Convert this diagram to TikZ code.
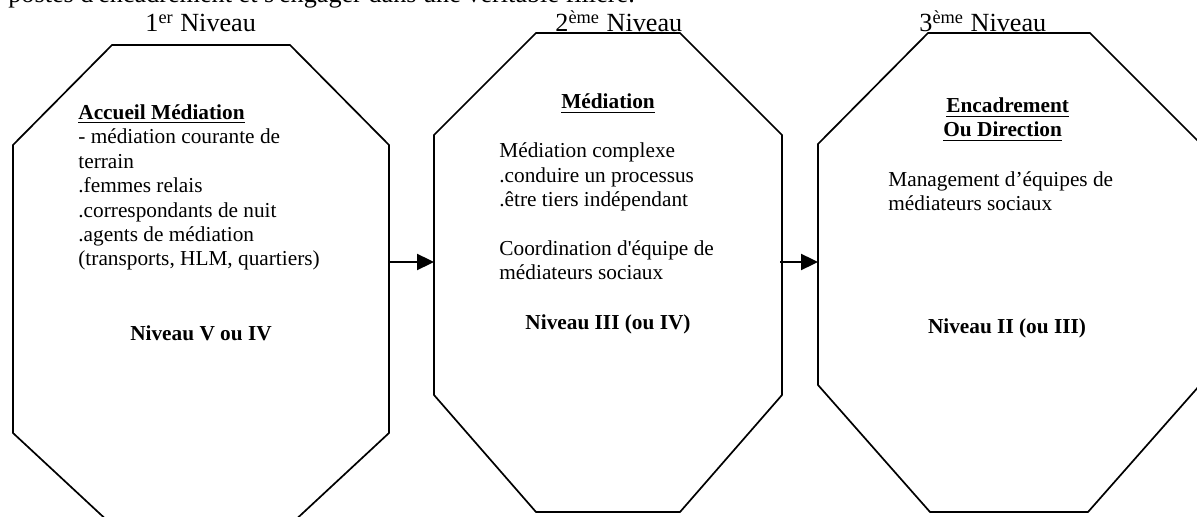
\documentclass[tikz,border=0pt]{standalone}
\usepackage{fontspec}
\setmainfont{Liberation Serif}
\newfontfamily\plainserif{Liberation Serif}
\usetikzlibrary{arrows.meta}
\tikzset{
  octline/.style  = {draw=black, line width=0.85pt, line join=miter},
  flow/.style     = {-{Triangle[length=8.5pt, width=8pt]}, line width=1.15pt},
  headtxt/.style  = {font=\fontsize{13.1}{15}\selectfont, inner sep=0pt, anchor=base west},
  bodytxt/.style  = {font=\fontsize{10.65}{12.2}\selectfont, inner sep=0pt,
                     anchor=base west, align=left},
  titletxt/.style = {bodytxt, font=\fontsize{10.65}{12.2}\selectfont\bfseries},
  leveltxt/.style = {font=\fontsize{10.65}{12.2}\selectfont\bfseries, inner sep=0pt,
                     anchor=base},
}

\begin{document}
\begin{tikzpicture}[x=0.5pt, y=-0.5pt]
  \useasboundingbox (0,0) rectangle (1197,517);
  % line of running text cut at the top
  \node[headtxt] (intro) at (8,3) {postes d{\plainserif'}encadrement et s{\plainserif'}engager dans une véritable filière.};
  \node[headtxt] (lvl1) at (145,32) {1\textsuperscript{er} Niveau};
  \node[headtxt] (lvl2) at (555,32) {2\textsuperscript{ème} Niveau};
  \node[headtxt] (lvl3) at (919,32) {3\textsuperscript{ème} Niveau};
  % octagons
  \draw[octline] (112,45) -- (290,45) -- (389,145) -- (389,433)
    -- (290,525) -- (112,525) -- (13,433) -- (13,145) -- cycle;
  \draw[octline] (536,33) -- (680,33) -- (782,135) -- (782,395)
    -- (680,512) -- (536,512) -- (434,395) -- (434,135) -- cycle;
  \draw[octline] (928,33) -- (1090,33) -- (1200,143) -- (1200,385) -- (1088,512)
    -- (930,512) -- (818,385) -- (818,144) -- cycle;
  \coordinate (o1e) at (389,262);
  \coordinate (o2w) at (434,262);
  \coordinate (o2e) at (780,262);
  \coordinate (o3w) at (818,262);
  % level 1 (multi-line nodes sit on their last baseline)
  \node[bodytxt] (box1) at (78,266) {\textbf{\underline{Accueil Médiation}}\\
    - médiation courante de\\ terrain\\ .femmes relais\\ .correspondants de nuit\\
    .agents de médiation\\ (transports, HLM, quartiers)};
  \node[leveltxt] (niv1) at (201,341) {Niveau V ou IV};
  % level 2
  \node[leveltxt] (tit2) at (608,109) {\underline{Médiation}};
  \node[bodytxt] (box2) at (499,280) {Médiation complexe\\ .conduire un processus\\
    .être tiers indépendant\\[12.2pt] Coordination d{\plainserif'}équipe de\\ médiateurs sociaux};
  \node[leveltxt] (niv2) at (608,330) {Niveau III (ou IV)};
  % level 3
  \node[titletxt] (tit3a) at (946,113) {\underline{Encadrement}};
  \node[titletxt] (tit3b) at (943,137) {\underline{Ou Direction}};
  \node[bodytxt] (box3) at (888,211) {Management d’équipes de\\ médiateurs sociaux};
  \node[leveltxt] (niv3) at (1007,334) {Niveau II (ou III)};
  % arrows
  \draw[flow] (o1e) -- (o2w);
  \draw[flow] (o2e) -- (o3w);
\end{tikzpicture}
\end{document}
